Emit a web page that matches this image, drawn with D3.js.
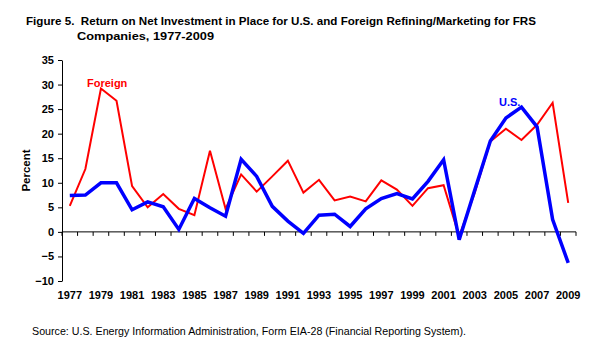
<!DOCTYPE html>
<html>
<head>
<meta charset="utf-8">
<script src="https://cdn.jsdelivr.net/npm/d3@7/dist/d3.min.js"></script>
<style>
  html, body { margin: 0; padding: 0; background: #fff; }
  svg { display: block; font-family: Arial, "Liberation Sans", sans-serif; }
</style>
</head>
<body>
<svg id="chart" width="599" height="349"></svg>
<script>
// Return on net investment in place, percent, 1977-2009
const years = d3.range(1977, 2010);
const usReturn = [7.4, 7.5, 10.0, 10.0, 4.5, 6.1, 5.1, 0.5, 6.8, 4.9, 3.2, 14.8,
  11.3, 5.2, 2.2, -0.3, 3.4, 3.6, 1.1, 4.7, 6.8, 7.8, 6.7, 10.3, 14.7, -1.6,
  8.5, 18.5, 23.2, 25.4, 21.4, 2.5, -6.3];
const foreignReturn = [5.3, 12.8, 29.2, 26.7, 9.3, 5.0, 7.7, 4.7, 3.4, 16.5, 4.7, 11.7,
  8.2, 11.3, 14.5, 8.0, 10.6, 6.4, 7.2, 6.2, 10.5, 8.6, 5.3, 8.9, 9.5, -0.9,
  8.0, 18.4, 21.0, 18.7, 21.8, 26.3, 5.9];
const yTicks = [-10, -5, 0, 5, 10, 15, 20, 25, 30, 35];
const xLabelYears = years.filter(y => (y - 1977) % 2 === 0);

const svg = d3.select('#chart');
const m = { l: 62, r: 23, t: 60, b: 68 };
const W = 599, H = 349;

const x = d3.scaleBand().domain(years).range([m.l, W - m.r]).padding(0);
const y = d3.scaleLinear().domain([-10, 35]).range([H - m.b, m.t]);
const cx = yr => x(yr) + x.bandwidth() / 2;

// title, two lines (nbsp keeps the double gap after "Figure 5.")
const title = svg.append('g').attr('font-weight', 'bold').attr('font-size', 11.5).attr('fill', '#000');
title.append('text').attr('x', 26).attr('y', 25)
  .attr('textLength', 510).attr('lengthAdjust', 'spacingAndGlyphs')
  .text('Figure 5.\u00a0 Return on Net Investment in Place for U.S. and Foreign Refining/Marketing for FRS');
title.append('text').attr('x', 77).attr('y', 40)
  .attr('textLength', 137).attr('lengthAdjust', 'spacingAndGlyphs')
  .text('Companies, 1977-2009');

// y axis
const yAxis = svg.append('g').attr('transform', `translate(${m.l},0)`)
  .call(d3.axisLeft(y).tickValues(yTicks).tickSize(4).tickSizeOuter(0).tickPadding(4));
yAxis.select('.domain').attr('stroke', '#000');
yAxis.selectAll('line').attr('stroke', '#000');
yAxis.selectAll('text').attr('font-family', 'Arial, "Liberation Sans", sans-serif')
  .attr('font-size', 11).attr('font-weight', 'bold').attr('fill', '#000');

// x axis on the zero line, ticks between categories
const x0 = y(0);
svg.append('line').attr('x1', m.l).attr('x2', W - m.r).attr('y1', x0).attr('y2', x0)
  .attr('stroke', '#000');
svg.selectAll('line.xtick').data(years.concat([2010])).join('line').attr('class', 'xtick')
  .attr('x1', d => d === 2010 ? W - m.r : x(d)).attr('x2', d => d === 2010 ? W - m.r : x(d))
  .attr('y1', x0).attr('y2', x0 + 4).attr('stroke', '#000');
svg.selectAll('text.xlab').data(xLabelYears).join('text').attr('class', 'xlab')
  .attr('x', d => cx(d)).attr('y', 299).attr('text-anchor', 'middle')
  .attr('font-size', 11).attr('font-weight', 'bold').attr('fill', '#000')
  .text(d => d);

// y axis title
svg.append('text').attr('transform', `translate(30,${(m.t + H - m.b) / 2}) rotate(-90)`)
  .attr('text-anchor', 'middle').attr('font-size', 11.5).attr('font-weight', 'bold')
  .text('Percent');

// series lines
const line = d3.line().x((d, i) => cx(years[i])).y(d => y(d));
svg.append('path').datum(foreignReturn).attr('d', line).attr('fill', 'none')
  .attr('stroke', '#ff0000').attr('stroke-width', 2).attr('stroke-linejoin', 'miter');
svg.append('path').datum(usReturn).attr('d', line).attr('fill', 'none')
  .attr('stroke', '#0000ff').attr('stroke-width', 3.5).attr('stroke-linejoin', 'miter');

// series labels
svg.append('text').attr('x', 87).attr('y', 87).attr('font-size', 11).attr('font-weight', 'bold')
  .attr('fill', '#ff0000').text('Foreign');
svg.append('text').attr('x', 499).attr('y', 106).attr('font-size', 11).attr('font-weight', 'bold')
  .attr('fill', '#0000ff').text('U.S.');

// source note
svg.append('text').attr('x', 32).attr('y', 335).attr('font-size', 10.5).attr('fill', '#000')
  .attr('textLength', 434).attr('lengthAdjust', 'spacingAndGlyphs')
  .text('Source: U.S. Energy Information Administration, Form EIA-28 (Financial Reporting System).');
</script>
</body>
</html>
